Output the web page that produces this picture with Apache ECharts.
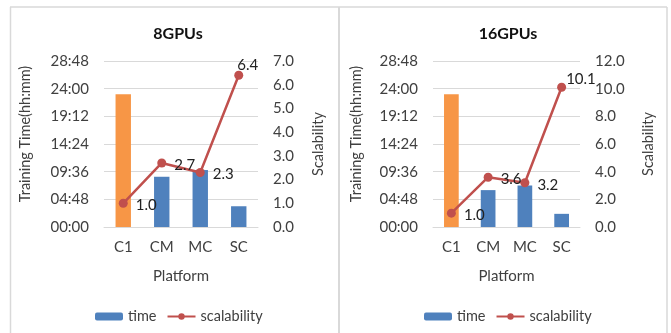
<!DOCTYPE html>
<html>
<head>
<meta charset="utf-8">
<script src="https://cdn.jsdelivr.net/npm/echarts@6/dist/echarts.min.js"></script>
<style>html,body{margin:0;padding:0;background:#fff}#c{width:671px;height:333px}</style>
</head>
<body>
<div id="c"></div>
<script>
// ---- data ----
const categories = ['C1', 'CM', 'MC', 'SC'];
// training time in minutes
const time8 = [1383, 523, 593, 216];
const scal8 = [1.0, 2.7, 2.3, 6.4];
const time16 = [1383, 384, 432, 137];
const scal16 = [1.0, 3.6, 3.2, 10.1];
const timeTicks = ['00:00', '04:48', '09:36', '14:24', '19:12', '24:00', '28:48'];
const titles = ['8GPUs', '16GPUs'];
const seriesNames = ['time', 'scalability'];

const FONT = 'Lato';
const ORANGE = '#F79646', BLUE = '#4F81BD', RED = '#C0504D', GRID = '#D9D9D9', TXT = '#404040';

function fmtTime(v) {
  const h = Math.floor(v / 60), m = Math.round(v % 60);
  return String(h).padStart(2, '0') + ':' + String(m).padStart(2, '0');
}

const panels = [
  {grid: {left: 104, right: 413, top: 61, bottom: 106}, time: time8, scal: scal8, smax: 7, sint: 1,
   titleX: 173, legendX: 90, lastOffset: [-14, -10], nameGapL: 71, nameGapR: 53},
  {grid: {left: 433, right: 91, top: 61, bottom: 106}, time: time16, scal: scal16, smax: 12, sint: 2,
   titleX: 503, legendX: 419, lastOffset: [-8, -8], nameGapL: 69, nameGapR: 61}
];

const option = {
  animation: false,
  textStyle: {fontFamily: FONT},
  title: [], legend: [], grid: [], xAxis: [], yAxis: [], series: [],
  graphic: [
    {type: 'line', shape: {x1: 10, y1: 7, x2: 667, y2: 7}, style: {stroke: GRID, lineWidth: 1.5}, silent: true},
    {type: 'line', shape: {x1: 10.5, y1: 7, x2: 10.5, y2: 333}, style: {stroke: GRID, lineWidth: 1.5}, silent: true},
    {type: 'line', shape: {x1: 339, y1: 7, x2: 339, y2: 333}, style: {stroke: GRID, lineWidth: 2}, silent: true},
    {type: 'line', shape: {x1: 667, y1: 7, x2: 667, y2: 333}, style: {stroke: GRID, lineWidth: 1.5}, silent: true}
  ]
};

panels.forEach((p, k) => {
  option.title.push({
    text: titles[k], left: p.titleX, top: 21, textAlign: 'center',
    textStyle: {fontFamily: FONT, fontSize: 16, fontWeight: 'bold', color: '#111'}
  });
  option.legend.push({
    data: [seriesNames[0], seriesNames[1]], left: p.legendX, top: 304,
    itemWidth: 28, itemHeight: 8, itemGap: 10,
    textStyle: {fontFamily: FONT, fontSize: 14.5, color: TXT}
  });
  option.grid.push(p.grid);
  option.xAxis.push({
    type: 'category', gridIndex: k, data: categories,
    name: 'Platform', nameLocation: 'middle', nameGap: 42,
    nameTextStyle: {fontFamily: FONT, fontSize: 15, color: TXT},
    axisLine: {lineStyle: {color: GRID, width: 1}}, axisTick: {show: false},
    axisLabel: {fontFamily: FONT, fontSize: 15, color: TXT, margin: 13}
  });
  option.yAxis.push({
    type: 'value', gridIndex: k, min: 0, max: 1728, interval: 288,
    name: 'Training Time(hh:mm)', nameLocation: 'middle', nameGap: p.nameGapL, nameRotate: 90,
    nameTextStyle: {fontFamily: FONT, fontSize: 14.5, color: TXT, padding: [0, 0, 0, 20]},
    axisLine: {show: false}, axisTick: {show: false},
    splitLine: {lineStyle: {color: GRID, width: 1}},
    axisLabel: {fontFamily: FONT, fontSize: 15, color: TXT, margin: 15,
      formatter: v => timeTicks[Math.round(v / 288)] || fmtTime(v)}
  });
  option.yAxis.push({
    type: 'value', gridIndex: k, position: 'right', min: 0, max: p.smax, interval: p.sint,
    name: 'Scalability', nameLocation: 'middle', nameGap: p.nameGapR, nameRotate: 90,
    nameTextStyle: {fontFamily: FONT, fontSize: 14.5, color: TXT},
    axisLine: {show: false}, axisTick: {show: false}, splitLine: {show: false},
    axisLabel: {fontFamily: FONT, fontSize: 15, color: TXT, margin: 15, formatter: v => v.toFixed(1)}
  });
  option.series.push({
    name: seriesNames[0], type: 'bar', xAxisIndex: k, yAxisIndex: 2 * k,
    barWidth: '40%', itemStyle: {color: BLUE},
    data: p.time.map((v, i) => i === 0 ? {value: v, itemStyle: {color: ORANGE}} : v)
  });
  option.series.push({
    name: seriesNames[1], type: 'line', xAxisIndex: k, yAxisIndex: 2 * k + 1,
    symbol: 'circle', symbolSize: 9, z: 5,
    lineStyle: {color: RED, width: 2.5}, itemStyle: {color: RED},
    label: {show: true, position: 'right', distance: 8, offset: [0, 2],
      fontFamily: FONT, fontSize: 15, color: '#222', formatter: q => q.value.toFixed(1)},
    data: p.scal.map((v, i) => i === p.scal.length - 1 ? {value: v, label: {offset: p.lastOffset}} : v)
  });
});

const chart = echarts.init(document.getElementById('c'), null, {renderer: 'canvas'});
chart.setOption(option);
</script>
</body>
</html>
